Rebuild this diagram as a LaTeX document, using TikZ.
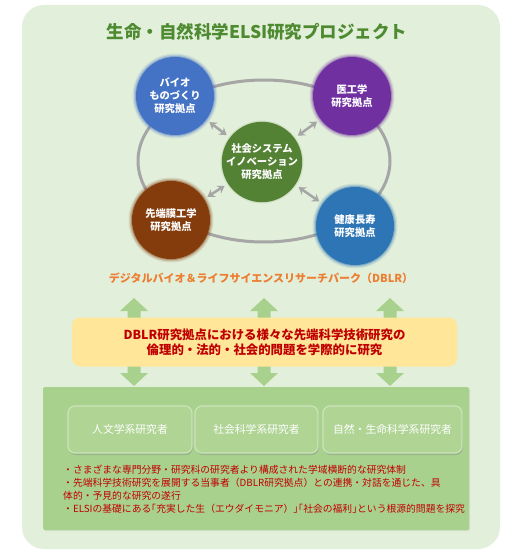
\documentclass[tikz,border=0pt]{standalone}
\usepackage{fontspec}
\setmainfont{Noto Sans CJK JP}
\usetikzlibrary{arrows.meta,shadows,shapes.geometric}
\definecolor{bgouter}{HTML}{E2EFDA}
\definecolor{titlegreen}{HTML}{4E8A30}
\definecolor{ringgray}{HTML}{A6A6A6}
\definecolor{cblue}{HTML}{4472C4}
\definecolor{cpurple}{HTML}{7030A0}
\definecolor{cgreen}{HTML}{548235}
\definecolor{cbrown}{HTML}{843C0C}
\definecolor{cblueb}{HTML}{2E75B6}
\definecolor{dblrorange}{HTML}{ED7D31}
\definecolor{arrowgreen}{HTML}{A9D18E}
\definecolor{boxyellow}{HTML}{FFE699}
\definecolor{textred}{HTML}{C00000}
\definecolor{panelgreen}{HTML}{A9D18E}
\definecolor{btnfill}{HTML}{AFD494}
\definecolor{btnhi}{HTML}{C6E2B2}
\definecolor{btnedge}{HTML}{CBE4BA}
\newcommand{\hw}[1]{{\addfontfeature{RawFeature=+halt}#1}}
\begin{document}
\begin{tikzpicture}[x=1pt,y=-1pt,
  hub/.style={circle, minimum size=78pt, inner sep=0pt, text=white, align=center,
    font=\bfseries\fontsize{10.3}{13}\selectfont},
  halo/.style={circle, inner sep=0pt},
  garrow/.style={draw=ringgray, line width=2.5pt, {Stealth[length=7pt,width=9pt]}-{Stealth[length=7pt,width=9pt]},
    shorten >=4pt, shorten <=4pt},
  ring/.style={draw=ringgray, line width=3pt, ellipse, minimum width=252pt, minimum height=162pt, inner sep=0pt},
  btn/.style={rounded corners=7pt, fill=btnfill, draw=btnedge, line width=1.2pt,
    minimum height=47pt, text=white, font=\fontsize{10.8}{12}\selectfont,
    drop shadow={opacity=0.35, shadow xshift=0.8pt, shadow yshift=-2pt}},
]
\useasboundingbox (0,0) rectangle (522,553);
% outer panel
\fill[bgouter, rounded corners=22pt] (22,5) rectangle (500,549);
% title
\node[text=titlegreen, font=\bfseries\fontsize{17.5}{20}\selectfont] (title) at (257,32) {生命・自然科学ELSI研究プロジェクト};
% ring
\node[ring] (ring) at (264,161) {};
% soft edges of the hubs
\foreach \cx/\cy/\cc/\r in {175/96/cblue/78, 352/96/cpurple/78, 262/162/cgreen/76, 171/220/cbrown/78, 355/226/cblueb/78}{
  \node[halo, fill=\cc, opacity=0.12, minimum size=\r pt+7pt] at (\cx,\cy) {};
  \node[halo, fill=\cc, opacity=0.2, minimum size=\r pt+4.5pt] at (\cx,\cy) {};
  \node[halo, fill=\cc, opacity=0.35, minimum size=\r pt+2pt] at (\cx,\cy) {};
}
% hubs
\node[hub, fill=cblue] (bio) at (175,96) {バイオ\\ものづくり\\研究拠点};
\node[hub, fill=cpurple] (med) at (352,96) {医工学\\研究拠点};
\node[hub, fill=cgreen, minimum size=76pt] (soc) at (262,162) {社会システム\\イノベーション\\研究拠点};
\node[hub, fill=cbrown] (mem) at (171,220) {先端膜工学\\研究拠点};
\node[hub, fill=cblueb] (hea) at (355,226) {健康長寿\\研究拠点};
% gray arrows
\draw[garrow] (bio) -- (soc);
\draw[garrow] (med) -- (soc);
\draw[garrow] (mem) -- (soc);
\draw[garrow] (hea) -- (soc);
% DBLR label
\node[text=dblrorange, font=\bfseries\fontsize{11}{13}\selectfont] (dblr) at (261,278) {デジタルバイオ＆ライフサイエンスリサーチパーク（DBLR）};
% green block arrows
\foreach \x in {134,264,390}{
  \fill[arrowgreen] (\x-6.5,311) -- (\x-14,311) -- (\x,298) -- (\x+14,311) -- (\x+6.5,311)
    -- (\x+6.5,373) -- (\x+14,373) -- (\x,386) -- (\x-14,373) -- (\x-6.5,373) -- cycle;
}
% yellow box
\node[fill=boxyellow, rounded corners=8pt, minimum width=385pt, minimum height=49pt, inner sep=0pt,
  text=textred, align=center, font=\bfseries\fontsize{12.4}{15}\selectfont] (ethics) at (264.5,342)
  {DBLR研究拠点における様々な先端科学技術研究の\\倫理的・法的・社会的問題を学際的に研究};
% bottom panel
\node[fill=panelgreen, minimum width=426pt, minimum height=143pt, inner sep=0pt, rounded corners=2pt,
  drop shadow={opacity=0.15, shadow xshift=1pt, shadow yshift=-1pt}] (panel) at (256,458.5) {};
% buttons
\node[btn, minimum width=124pt] (hum) at (130,429.5) {人文学系研究者};
\node[btn, minimum width=123pt] (socs) at (256.5,429.5) {社会科学系研究者};
\node[btn, minimum width=139pt] (nat) at (392.5,429.5) {自然・生命科学系研究者};
% bullet text
\node[anchor=north west, inner sep=0pt, text=textred, align=left, font=\fontsize{9.8}{13}\selectfont] (notes) at (63,465)
  {・さまざまな専門分野・研究科の研究者より構成された学域横断的な研究体制\\
   ・先端科学技術研究を展開する当事者（DBLR研究拠点）との連携・対話を通じた、具\\
   体的・予見的な研究の遂行\\
   ・ELSIの基礎にある\hw{「}充実した生（エウダイモニア）\hw{」「}社会の福利\hw{」}という根源的問題を探究};
\end{tikzpicture}
\end{document}
